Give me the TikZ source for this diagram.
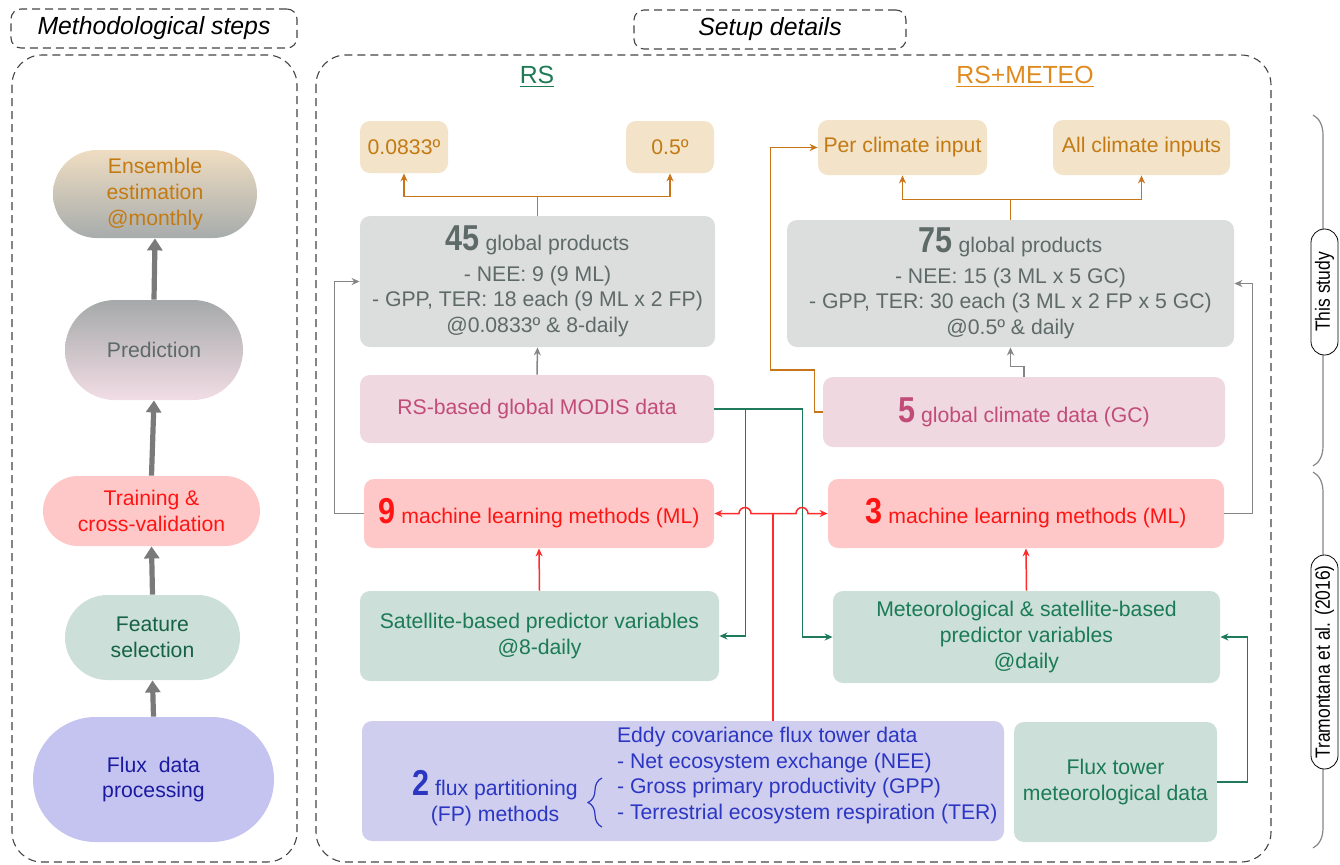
\documentclass[tikz,border=0pt]{standalone}
\usepackage{fontspec}
\setmainfont{Liberation Sans}
\newfontfamily\narrowfont[FakeStretch=0.85]{Liberation Sans}
\usepackage{tikz}
\usetikzlibrary{positioning,calc,arrows.meta,shapes.misc,decorations.pathreplacing}

\definecolor{ensTop}{HTML}{EFDDC2}
\definecolor{ensBot}{HTML}{A7ACAC}
\definecolor{predTop}{HTML}{A5A9A9}
\definecolor{predBot}{HTML}{F2DDE5}
\definecolor{tanFill}{HTML}{F2E3C9}
\definecolor{tanText}{HTML}{C47A12}
\definecolor{grayFill}{HTML}{DCDEDD}
\definecolor{grayText}{HTML}{5E6A68}
\definecolor{pinkFill}{HTML}{EFD8E0}
\definecolor{pinkText}{HTML}{C24C78}
\definecolor{redFill}{HTML}{FFC8C8}
\definecolor{redText}{HTML}{FF1414}
\definecolor{greenFill}{HTML}{CCDFD8}
\definecolor{greenText}{HTML}{1B7A57}
\definecolor{blueFill}{HTML}{CFCEEF}
\definecolor{blueText}{HTML}{2B36C2}
\definecolor{fluxText}{HTML}{1A1AA0}
\definecolor{lineOrange}{HTML}{C8741A}
\definecolor{lineGray}{HTML}{858585}
\definecolor{lineGreen}{HTML}{1E7A5A}
\definecolor{lineRed}{HTML}{FF2A2A}
\definecolor{stepGray}{HTML}{7A7A7A}
\definecolor{frameGray}{HTML}{444444}
\definecolor{rsGreen}{HTML}{1E7A55}
\definecolor{meteoOrange}{HTML}{E08A1E}

\newcommand{\bignum}[1]{{\narrowfont\bfseries\fontsize{18}{18}\selectfont #1}}

\begin{document}
\begin{tikzpicture}[
            x=0.5pt, y=-0.5pt,
            font=\fontsize{10.6}{12.8}\selectfont,
            frame box/.style={draw=frameGray, dash pattern=on 4pt off 2.5pt, line width=0.55pt},
            head text/.style={font=\fontsize{12.4}{14}\selectfont},
            title text/.style={font=\fontsize{12.4}{14}\selectfont\itshape},
            step node/.style={rounded rectangle, align=center, inner sep=2pt},
            info box/.style={rounded corners=5pt, align=center, inner sep=2pt},
            label box/.style={rounded rectangle, draw=black, fill=white, rotate=90, minimum height=13.5pt,
                inner sep=1pt, font=\narrowfont\fontsize{10.3}{12}\selectfont},
            step arrow/.style={draw=stepGray, line width=2.6pt, -{Triangle[length=6pt,width=7.5pt]}},
            thin arrow/.style={line width=0.75pt, -{Stealth[length=4pt,width=3.5pt]}},
            orange arrow/.style={thin arrow, draw=lineOrange},
            gray arrow/.style={thin arrow, draw=lineGray},
            green arrow/.style={thin arrow, draw=lineGreen},
            red arrow/.style={thin arrow, draw=lineRed},
            red line/.style={line width=0.75pt, draw=lineRed},
        ]
            \useasboundingbox (0,0) rectangle (1340,864);

            % frames and headings
            \node[frame box, rounded corners=5pt, minimum width=143pt, minimum height=19.5pt, title text] (hdrL) at (154,28.5) {Methodological steps};
            \node[frame box, rounded corners=5pt, minimum width=136pt, minimum height=19.5pt, title text] (hdrR) at (770,29.5) {Setup details};
            \draw[frame box, rounded corners=15pt] (12,55) rectangle (297,862);
            \draw[frame box, rounded corners=15pt] (316,55) rectangle (1271,862);
            \node[head text, text=rsGreen] (rs) at (537,77) {\underline{RS}};
            \node[head text, text=meteoOrange] (rsmeteo) at (1025,77) {\underline{RS+METEO}};

            % methodological steps
            \node[step node, minimum width=106pt, minimum height=44pt, top color=ensTop, bottom color=ensBot, text=tanText] (ens) at (155,194) {Ensemble\\estimation\\@monthly};
            \node[step node, minimum width=93pt, minimum height=50pt, top color=predTop, bottom color=predBot, text=grayText] (pred) at (154,350) {Prediction};
            \node[step node, minimum width=112.5pt, minimum height=35pt, fill=redFill, text=redText] (train) at (151.5,511) {Training \&\\cross-validation};
            \node[step node, minimum width=91.5pt, minimum height=42.5pt, fill=greenFill, text=greenText!80!black] (feat) at (152.5,637.5) {Feature\\selection};
            \node[step node, minimum width=124.5pt, minimum height=62.5pt, fill=blueFill!95!blue, text=fluxText] (flux) at (153.5,779.5) {Flux~~data\\processing};

            \path (flux.north) edge[step arrow] (feat.south);
            \path (feat.north) edge[step arrow] (train.south);
            \path (train.north) edge[step arrow] (pred.south);
            \path (pred.north) edge[step arrow] (ens.south);

            % RS setup
            \node[info box, minimum width=44pt, minimum height=26pt, fill=tanFill, text=tanText] (r1) at (404,147) {0.0833º};
            \node[info box, minimum width=44pt, minimum height=26pt, fill=tanFill, text=tanText] (r2) at (670,147) {0.5º};
            \node[info box, minimum width=177.5pt, minimum height=65.5pt, fill=grayFill, text=grayText] (g45) at (537.5,281.5) {\bignum{45} global products\\[2.5pt]- NEE: 9 (9 ML)\\- GPP, TER: 18 each (9 ML x 2 FP)\\@0.0833º \& 8-daily};
            \node[info box, minimum width=177pt, minimum height=34pt, fill=pinkFill, text=pinkText] (modis) at (537,409) {RS-based global MODIS data};
            \node[info box, minimum width=175pt, minimum height=34.5pt, fill=redFill, text=redText] (ml9) at (539,513.5) {\bignum{9} machine learning methods (ML)};
            \node[info box, minimum width=179.5pt, minimum height=45pt, fill=greenFill, text=greenText] (sat) at (539.5,636) {Satellite-based predictor variables\\@8-daily};

            % RS+METEO setup
            \node[info box, minimum width=84.5pt, minimum height=27.5pt, fill=tanFill, text=tanText] (m1) at (902.5,147.5) {Per climate input};
            \node[info box, minimum width=88.5pt, minimum height=27.5pt, fill=tanFill, text=tanText] (m2) at (1141.5,147.5) {All climate inputs};
            \node[info box, minimum width=223.5pt, minimum height=63.5pt, fill=grayFill, text=grayText] (g75) at (1010.5,283.5) {\bignum{75} global products\\[2.5pt]- NEE: 15 (3 ML x 5 GC)\\- GPP, TER: 30 each (3 ML x 2 FP x 5 GC)\\@0.5º \& daily};
            \node[info box, minimum width=201pt, minimum height=35pt, fill=pinkFill, text=pinkText] (gc) at (1024,412) {\bignum{5} global climate data (GC)};
            \node[info box, minimum width=198pt, minimum height=34.5pt, fill=redFill, text=redText] (ml3) at (1026,513.5) {\bignum{3} machine learning methods (ML)};
            \node[info box, minimum width=193.5pt, minimum height=46pt, fill=greenFill, text=greenText] (met) at (1026.5,637) {Meteorological \& satellite-based\\predictor variables\\@daily};

            % flux tower data
            \node[info box, minimum width=321pt, minimum height=60pt, fill=blueFill] (fp) at (683,781) {};
            \node[align=center, text=blueText] (fpL) at (495,798) {\bignum{2} flux partitioning\\(FP) methods};
            \node[align=left, anchor=west, text=blueText] (fpR) at (610,775.5) {Eddy covariance flux tower data\\- Net ecosystem exchange (NEE)\\- Gross primary productivity (GPP)\\- Terrestrial ecosystem respiration (TER)};
            \draw[blueText, line width=0.6pt, decorate, decoration={brace, amplitude=7pt}] (602,827) -- (602,778);
            \node[info box, minimum width=101.5pt, minimum height=60pt, fill=greenFill, text=greenText] (tow) at (1115.5,782) {Flux tower\\meteorological data};

            % connectors
            \draw[orange arrow] (g45.north) -- ++(0,-19) coordinate (s45) -| (r1.south);
            \draw[orange arrow] (s45) -| (r2.south);
            \draw[orange arrow] (g75.north) -- ++(0,-20) coordinate (s75) -| (m1.south);
            \draw[orange arrow] (s75) -| (m2.south);
            \draw[orange arrow] (gc.west) -- ++(-8,0) -- ++(0,-42) -- ++(-44,0) |- (m1.west);

            \path (modis.north) edge[gray arrow] (g45.south);
            \draw[gray arrow] (gc.north) -- ++(0,-10) -| (g75.south);
            \draw[gray arrow] (ml9.west) -- ++(-29,0) |- (g45.west);
            \draw[gray arrow] (ml3.east) -- ++(28,0) |- (g75.east);

            \draw[green arrow] (modis.east) -- ++(31,0) coordinate (sm) -- ++(57,0) |- (met.west);
            \draw[green arrow] (sm) |- (sat.east);
            \draw[green arrow] (tow.east) -- ++(30,0) |- (met.east);

            \path (sat.north) edge[red arrow] (ml9.south);
            \path (met.north) edge[red arrow] (ml3.south);
            \coordinate (fp top) at ([xshift=45pt]fp.north);
            \coordinate (ml split) at (fp top |- ml9.east);
            \draw[red line] (fp top) -- (ml split);
            \draw[red arrow] (ml split) -- ++(-22,0) arc[start angle=0, end angle=180, radius=3pt] -- (ml9.east);
            \draw[red arrow] (ml split) -- ++(23,0) arc[start angle=180, end angle=0, radius=3pt] -- (ml3.west);

            % study brackets
            \draw[lineGray, line width=0.6pt, decorate, decoration={brace, amplitude=10pt}] (1313,115) -- (1313,466);
            \draw[lineGray, line width=0.6pt, decorate, decoration={brace, amplitude=10pt}] (1313,472) -- (1313,848);
            \node[label box, minimum width=65pt] (this) at (1324.5,292) {This study};
            \node[label box, minimum width=109pt] (tram) at (1324.5,662) {Tramontana et al. (2016)};
        \end{tikzpicture}
\end{document}
